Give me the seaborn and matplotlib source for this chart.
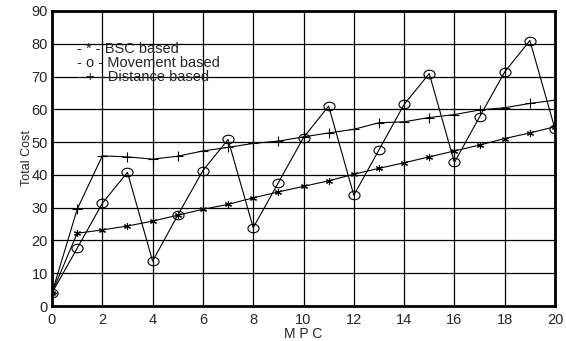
import numpy as np
import pandas as pd
import matplotlib
matplotlib.use("Agg")
import matplotlib.pyplot as plt
import seaborn as sns
from matplotlib.path import Path

mpc = list(range(21))
bsc = [4, 22.2, 23.2, 24.4, 25.9, 27.7, 29.5, 31, 33, 34.8, 36.5, 38.2, 40.2, 42, 43.7, 45.5, 47.3, 49.1, 51.1, 52.8, 54.7]
movement = [4, 17.6, 31.3, 40.8, 13.7, 27.7, 41.3, 50.8, 23.9, 37.6, 51.4, 61, 33.8, 47.6, 61.5, 70.9, 43.8, 57.7, 71.4, 81, 54]
distance = [4, 29.5, 45.8, 45.5, 44.8, 45.7, 47.3, 48.4, 49.6, 50.3, 51.6, 52.8, 53.9, 55.9, 56.2, 57.5, 58.4, 59.8, 60.5, 61.8, 62.8]
legend_labels = ["- * - BSC based", "- o - Movement based", "- + - Distance based"]
xticks = list(range(0, 21, 2))
yticks = list(range(0, 91, 10))

sns.set_style("white")
plt.rcParams['font.family'] = ['Liberation Sans', 'DejaVu Sans']

fig = plt.figure(figsize=(5.66, 3.41), dpi=100)
ax = fig.add_axes([52/566, 35/341, 503/566, 295/341])

# elliptical circle marker
circ = Path.unit_circle()
ell = Path(circ.vertices * np.array([1.3, 1.0]), circ.codes)

df = pd.DataFrame({"MPC": mpc, "BSC": bsc, "Movement": movement, "Distance": distance})

sns.lineplot(data=df, x="MPC", y="BSC", ax=ax, color="k", linewidth=0.8,
             marker=(6, 2, 0), markersize=5, markeredgecolor="k",
             markeredgewidth=0.8, zorder=3)
sns.lineplot(data=df, x="MPC", y="Movement", ax=ax, color="k", linewidth=0.8,
             marker=ell, markersize=8, markerfacecolor="none", markeredgecolor="k",
             markeredgewidth=0.8, zorder=3)
sns.lineplot(data=df, x="MPC", y="Distance", ax=ax, color="k", linewidth=0.8,
             marker="+", markersize=7, markeredgecolor="k",
             markeredgewidth=0.8, zorder=3)

ax.set_xlim(0, 20)
ax.set_ylim(0, 90)
ax.set_xticks(xticks)
ax.set_yticks(yticks)
ax.set_xticklabels([str(t) for t in xticks], fontsize=10.5)
ax.set_yticklabels([str(t) for t in yticks], fontsize=10.5)
ax.grid(True, color="k", linewidth=0.9)
ax.set_axisbelow(True)
for s in ax.spines.values():
    s.set_linewidth(2)
    s.set_color("k")
ax.tick_params(axis="x", length=0, pad=5)
ax.tick_params(axis="y", length=0, pad=3)
ax.set_xlabel("M P C", fontsize=10, labelpad=0)
ax.set_ylabel("Total Cost", fontsize=9)
ax.yaxis.set_label_coords(-19/503, 0.5)

ax.text(77/566, 1 - 42/341, "\n".join(legend_labels), transform=fig.transFigure,
        fontsize=10.5, va="top", ha="left", linespacing=0.98)

fig.savefig("out.png", dpi=100)
